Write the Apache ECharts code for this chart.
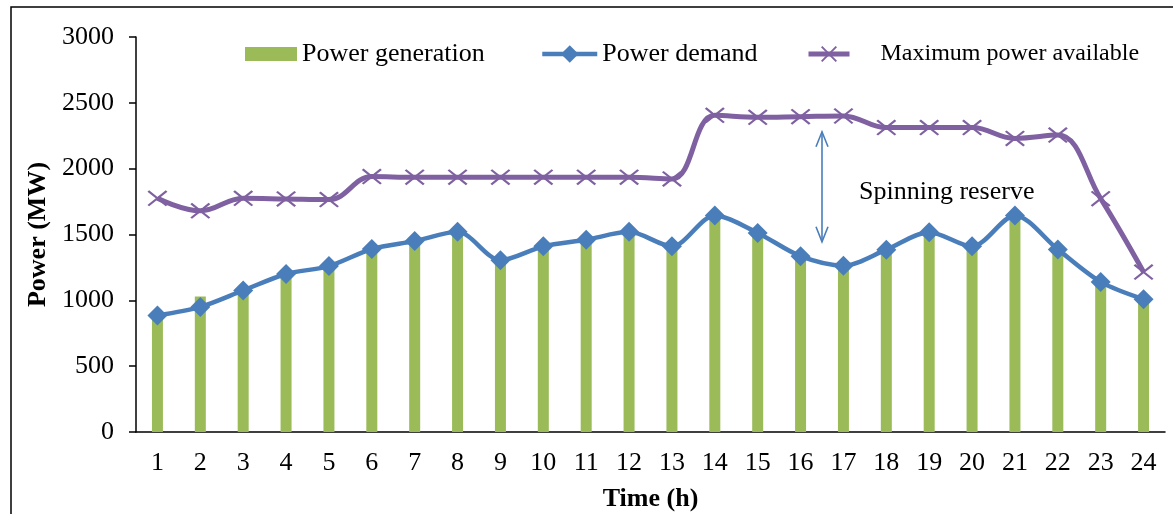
<!DOCTYPE html>
<html>
<head>
<meta charset="utf-8">
<script src="https://cdn.jsdelivr.net/npm/echarts@6/dist/echarts.min.js"></script>
<style>
html,body{margin:0;padding:0;background:#fff;}
#main{width:1173px;height:514px;}
</style>
</head>
<body>
<div id="main"></div>
<script>
const hours = ['1','2','3','4','5','6','7','8','9','10','11','12','13','14','15','16','17','18','19','20','21','22','23','24'];
const powerGeneration = [880, 1030, 1080, 1200, 1260, 1390, 1450, 1520, 1310, 1410, 1460, 1520, 1410, 1640, 1510, 1330, 1260, 1380, 1520, 1410, 1640, 1390, 1140, 1010];
const powerDemand = [885, 950, 1075, 1200, 1260, 1390, 1450, 1520, 1305, 1410, 1460, 1520, 1410, 1645, 1512, 1335, 1263, 1385, 1518, 1410, 1645, 1387, 1140, 1008];
const maxPowerAvailable = [1775, 1680, 1775, 1770, 1765, 1940, 1935, 1935, 1935, 1935, 1935, 1935, 1922, 2405, 2390, 2395, 2400, 2312, 2312, 2312, 2230, 2255, 1772, 1215];
const yTicks = [0, 500, 1000, 1500, 2000, 2500, 3000];
const reserveArrow = {between: ['16', '17'], top: 2280, bottom: 1445};

const FONT = '"Liberation Serif", "Times New Roman", serif';
const GREEN = '#9BBB59', BLUE = '#4A7EBB', PURPLE = '#7F61A1';
const xSymbol = 'path://M0,0.85 L0.85,0 L10,9.15 L9.15,10 Z M9.15,0 L10,0.85 L0.85,10 L0,9.15 Z';

const chart = echarts.init(document.getElementById('main'), null, {renderer: 'canvas'});

const option = {
  animation: false,
  backgroundColor: '#fff',
  grid: {left: 136, right: 8, top: 37, bottom: 82, containLabel: false, outerBoundsMode: 'none'},
  legend: [
    {data: [{name: 'Power generation', icon: 'rect'}], left: 245, top: 41, padding: 0, itemWidth: 52, itemHeight: 14,
      textStyle: {fontFamily: FONT, fontSize: 26, color: '#000'}, selectedMode: false},
    {data: ['Power demand'], left: 540, top: 41, padding: 0, itemWidth: 55, itemHeight: 22,
      lineStyle: {width: 4.5},
      textStyle: {fontFamily: FONT, fontSize: 26, color: '#000'}, selectedMode: false},
    {data: ['Maximum power available'], left: 806, top: 42, padding: 0, itemWidth: 41, itemHeight: 20,
      lineStyle: {width: 5},
      textStyle: {fontFamily: FONT, fontSize: 24, color: '#000', padding: [0, 0, 0, 26]}, selectedMode: false}
  ],
  xAxis: {
    type: 'category',
    data: hours,
    name: 'Time (h)',
    nameLocation: 'middle',
    nameGap: 54,
    nameTextStyle: {fontFamily: FONT, fontSize: 26, fontWeight: 'bold', color: '#000'},
    axisLine: {lineStyle: {color: '#000', width: 1.5}},
    axisTick: {show: false},
    axisLabel: {fontFamily: FONT, fontSize: 26, color: '#000', margin: 18}
  },
  yAxis: {
    type: 'value',
    min: yTicks[0],
    max: yTicks[yTicks.length - 1],
    interval: yTicks[1] - yTicks[0],
    name: 'Power (MW)',
    nameLocation: 'middle',
    nameGap: 84,
    nameTextStyle: {fontFamily: FONT, fontSize: 26, fontWeight: 'bold', color: '#000'},
    axisLine: {show: true, lineStyle: {color: '#000', width: 1.5}},
    axisTick: {show: true, inside: false, length: 7, lineStyle: {color: '#000', width: 1.5}},
    axisLabel: {fontFamily: FONT, fontSize: 26, color: '#000', margin: 22, formatter: v => String(v)},
    splitLine: {show: false}
  },
  series: [
    {
      name: 'Power generation',
      type: 'bar',
      data: powerGeneration,
      barWidth: 11,
      itemStyle: {color: GREEN},
      z: 1
    },
    {
      name: 'Power demand',
      type: 'line',
      data: powerDemand,
      smooth: 0.3,
      symbol: 'diamond',
      symbolSize: 20,
      showAllSymbol: true,
      lineStyle: {color: BLUE, width: 4.5},
      itemStyle: {color: BLUE},
      z: 3
    },
    {
      name: 'Maximum power available',
      type: 'line',
      data: maxPowerAvailable,
      smooth: 0.4,
      symbol: xSymbol,
      symbolSize: [20, 16],
      showAllSymbol: true,
      lineStyle: {color: PURPLE, width: 5},
      itemStyle: {color: PURPLE},
      z: 2
    }
  ]
};
chart.setOption(option);

// Annotation: spinning reserve double arrow, positioned via the chart's own scales
const xa = chart.convertToPixel({xAxisIndex: 0}, reserveArrow.between[0]);
const xb = chart.convertToPixel({xAxisIndex: 0}, reserveArrow.between[1]);
const ax = (xa + xb) / 2;
const yTop = chart.convertToPixel({yAxisIndex: 0}, reserveArrow.top);
const yBot = chart.convertToPixel({yAxisIndex: 0}, reserveArrow.bottom);
const hw = 6, hl = 15;
const arrowStyle = {stroke: BLUE, lineWidth: 1.6, fill: null};

chart.setOption({
  graphic: [
    {type: 'rect', shape: {x: 11, y: 7, width: 1300, height: 700}, style: {fill: null, stroke: '#000', lineWidth: 1.5}, silent: true},
    {type: 'line', shape: {x1: ax, y1: yTop, x2: ax, y2: yBot}, style: arrowStyle, z: 10},
    {type: 'polyline', shape: {points: [[ax - hw, yTop + hl], [ax, yTop], [ax + hw, yTop + hl]]}, style: arrowStyle, z: 10},
    {type: 'polyline', shape: {points: [[ax - hw, yBot - hl], [ax, yBot], [ax + hw, yBot - hl]]}, style: arrowStyle, z: 10},
    {type: 'text', left: 859, top: 179, style: {text: 'Spinning reserve', fontFamily: FONT, fontSize: 26, fill: '#000'}, z: 10}
  ]
});
</script>
</body>
</html>
